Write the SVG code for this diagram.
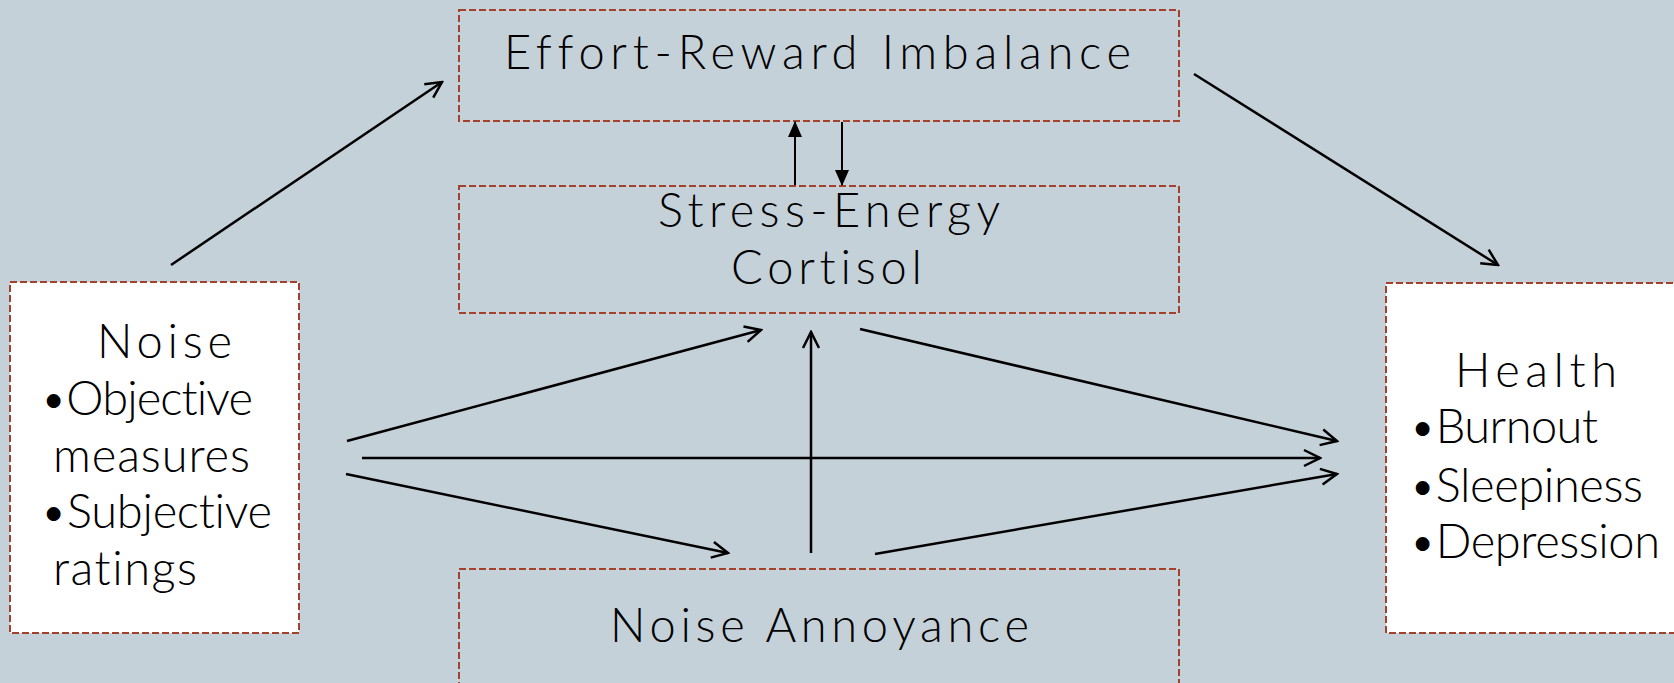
<svg xmlns="http://www.w3.org/2000/svg" width="1674" height="683" viewBox="0 0 1674 683">
<style>
.box{stroke:#a3412d;stroke-width:2;stroke-dasharray:7 3}
.blue{fill:#c5d1d8}
.white{fill:#ffffff}
.t{font-family:Lato,"Open Sans","Liberation Sans",sans-serif;font-size:47px;font-weight:300;fill:#000;font-variant-ligatures:none;font-feature-settings:"liga" 0}
.c line{stroke:#000;stroke-width:2.5;fill:none}
</style>
<defs>
<marker id="open" viewBox="0 0 20 20" refX="18" refY="10" markerWidth="20" markerHeight="20" markerUnits="userSpaceOnUse" orient="auto">
<path d="M2,2 L18,10 L2,18" fill="none" stroke="#000" stroke-width="2.5"/>
</marker>
<marker id="solid" viewBox="0 0 16 16" refX="15" refY="8" markerWidth="16" markerHeight="16" markerUnits="userSpaceOnUse" orient="auto">
<path d="M0,1 L16,8 L0,15 Z" fill="#000"/>
</marker>
</defs>
<rect width="1674" height="683" fill="#c5d1d8"/>
<g id="eri">
<rect class="box blue" x="459" y="10" width="720" height="111"/>
<text class="t" x="504" y="69" textLength="627">Effort-Reward Imbalance</text>
</g>
<g id="stress">
<rect class="box blue" x="459" y="186" width="720" height="127"/>
<text class="t" x="658" y="227" textLength="342">Stress-Energy</text>
<text class="t" x="731" y="284" textLength="191">Cortisol</text>
</g>
<g id="annoyance">
<rect class="box blue" x="459" y="569" width="720" height="120"/>
<text class="t" x="610" y="642" textLength="419">Noise Annoyance</text>
</g>
<g id="noise">
<rect class="box white" x="10" y="282" width="289" height="351"/>
<text class="t" x="97" y="358" textLength="135">Noise</text>
<text class="t" x="40" y="415" textLength="213">•Objective</text>
<text class="t" x="53" y="472" textLength="197">measures</text>
<text class="t" x="40" y="528" textLength="232">•Subjective</text>
<text class="t" x="53" y="585" textLength="144">ratings</text>
</g>
<g id="health">
<rect class="box white" x="1386" y="283" width="300" height="350"/>
<text class="t" x="1455" y="387" textLength="162">Health</text>
<text class="t" x="1409" y="443" textLength="189">•Burnout</text>
<text class="t" x="1409" y="502" textLength="234">•Sleepiness</text>
<text class="t" x="1409" y="558" textLength="251">•Depression</text>
</g>
<g id="connectors" class="c">
<line x1="171" y1="265" x2="442" y2="82" marker-end="url(#open)"/>
<line x1="1194" y1="74" x2="1498" y2="265" marker-end="url(#open)"/>
<line x1="795" y1="185" x2="795" y2="122" marker-end="url(#solid)" style="stroke-width:2"/>
<line x1="842" y1="122" x2="842" y2="185" marker-end="url(#solid)" style="stroke-width:2"/>
<line x1="347" y1="441" x2="761" y2="330" marker-end="url(#open)"/>
<line x1="362" y1="458" x2="1320" y2="458" marker-end="url(#open)"/>
<line x1="346" y1="474" x2="728" y2="553" marker-end="url(#open)"/>
<line x1="811" y1="553" x2="811" y2="332" marker-end="url(#open)"/>
<line x1="860" y1="329" x2="1337" y2="441" marker-end="url(#open)"/>
<line x1="875" y1="554" x2="1337" y2="474" marker-end="url(#open)"/>
</g>
</svg>
